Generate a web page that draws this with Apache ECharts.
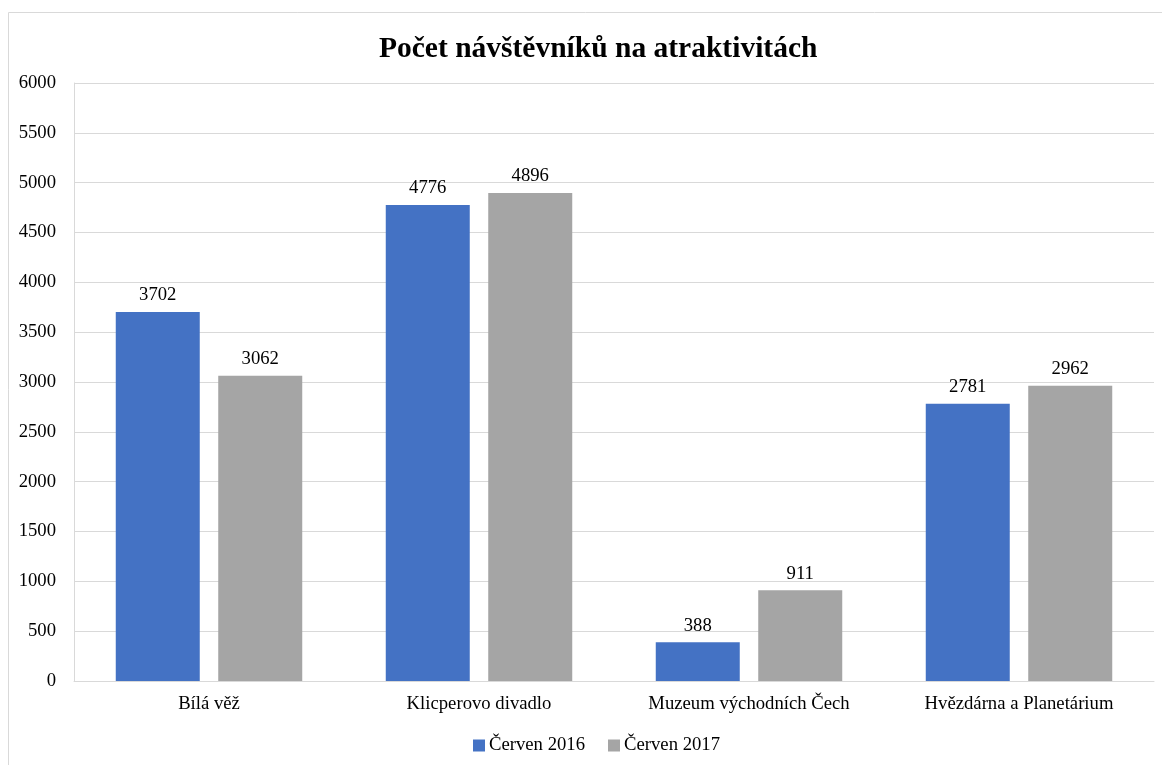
<!DOCTYPE html>
<html><head><meta charset="utf-8">
<script src="https://cdn.jsdelivr.net/npm/echarts@6/dist/echarts.min.js"></script>
<style>html,body{margin:0;padding:0;background:#fff}#c{width:1162px;height:765px}</style>
</head><body><div id="c"></div>
<script>
const categories = ['Bílá věž', 'Klicperovo divadlo', 'Muzeum východních Čech', 'Hvězdárna a Planetárium'];
const cerven2016 = [3702, 4776, 388, 2781];
const cerven2017 = [3062, 4896, 911, 2962];
const seriesNames = ['Červen 2016', 'Červen 2017'];
const F = '"Liberation Serif","Times New Roman",serif';
const FS = 18.7;
const chart = echarts.init(document.getElementById('c'), null, {renderer: 'canvas'});
const lbl = {show: true, position: 'top', distance: 7, color: '#000', fontFamily: F, fontSize: FS};
chart.setOption({
  animation: false,
  graphic: [{type: 'rect', shape: {x: 8.5, y: 12.5, width: 1200, height: 800}, style: {fill: 'none', stroke: '#d9d9d9', lineWidth: 1}}],
  title: {text: 'Počet návštěvníků na atraktivitách', left: 374, top: 29, textStyle: {fontFamily: F, fontSize: 29.5, fontWeight: 'bold', color: '#000'}},
  legend: {bottom: 5, left: 468, itemWidth: 12, itemHeight: 12, itemGap: 23, icon: 'rect', textStyle: {fontFamily: F, fontSize: FS, color: '#000', padding: [0,0,0,-1]}},
  grid: {left: 74, right: 8, top: 83, bottom: 84, containLabel: false},
  xAxis: {type: 'category', data: categories, axisTick: {show: false}, axisLine: {lineStyle: {color: '#d9d9d9'}},
    axisLabel: {fontFamily: F, fontSize: FS, color: '#000', margin: 14}},
  yAxis: {type: 'value', min: 0, max: 6000, interval: 500,
    axisLine: {show: true, lineStyle: {color: '#d9d9d9'}}, axisTick: {show: false},
    splitLine: {lineStyle: {color: '#d9d9d9'}},
    axisLabel: {fontFamily: F, fontSize: FS, color: '#000', margin: 18, formatter: v => String(v)}},
  series: [
    {name: seriesNames[0], type: 'bar', data: cerven2016, itemStyle: {color: '#4472c4'}, barWidth: 84, barGap: '22%', label: lbl},
    {name: seriesNames[1], type: 'bar', data: cerven2017, itemStyle: {color: '#a5a5a5'}, barWidth: 84, label: lbl}
  ]
});
</script></body></html>
